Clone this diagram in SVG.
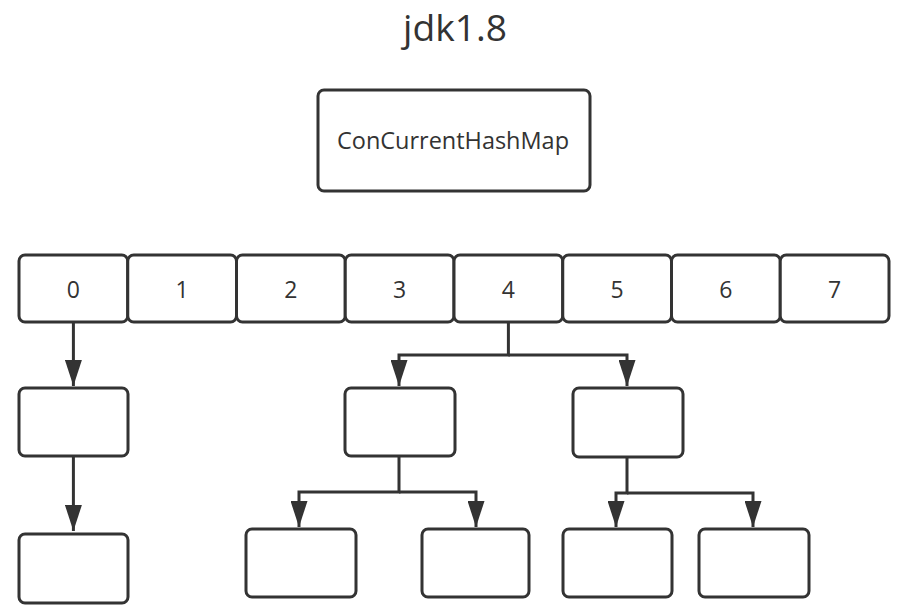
<svg xmlns="http://www.w3.org/2000/svg" width="901" height="613" viewBox="0 0 901 613">
<defs>
<marker id="arr" viewBox="0 0 17 26" refX="17" refY="8.5" markerWidth="17" markerHeight="26" markerUnits="userSpaceOnUse" orient="auto">
<path d="M0,0 L26,8.5 L0,17 Z" fill="#333" transform="scale(1,1)"/>
</marker>
<marker id="ah" viewBox="0 0 26 17" refX="26" refY="8.5" markerWidth="26" markerHeight="17" markerUnits="userSpaceOnUse" orient="auto">
<path d="M0,0 L26,8.5 L0,17 Z" fill="#333"/>
</marker>
</defs>
<style>
.box{fill:#fff;stroke:#333;stroke-width:3}
.t{font-family:"Open Sans","Noto Sans",sans-serif;fill:#333;text-anchor:middle}
.d{font-size:23px}
.c{fill:none;stroke:#333;stroke-width:3}
</style>
<rect width="901" height="613" fill="#fff"/>
<text class="t" x="455" y="41" font-size="37" textLength="104" lengthAdjust="spacingAndGlyphs">jdk1.8</text>
<g id="chm">
<rect class="box" x="318" y="90" width="272" height="101" rx="6"/>
<text class="t" x="453" y="149" font-size="23" textLength="232" lengthAdjust="spacingAndGlyphs">ConCurrentHashMap</text>
</g>
<g id="cell0"><rect class="box" x="19" y="255" width="108.75" height="67" rx="6"/><text class="t d" x="73.4" y="298">0</text></g>
<g id="cell1"><rect class="box" x="127.75" y="255" width="108.75" height="67" rx="6"/><text class="t d" x="182.1" y="298">1</text></g>
<g id="cell2"><rect class="box" x="236.5" y="255" width="108.75" height="67" rx="6"/><text class="t d" x="290.9" y="298">2</text></g>
<g id="cell3"><rect class="box" x="345.25" y="255" width="108.75" height="67" rx="6"/><text class="t d" x="399.6" y="298">3</text></g>
<g id="cell4"><rect class="box" x="454" y="255" width="108.75" height="67" rx="6"/><text class="t d" x="508.4" y="298">4</text></g>
<g id="cell5"><rect class="box" x="562.75" y="255" width="108.75" height="67" rx="6"/><text class="t d" x="617.1" y="298">5</text></g>
<g id="cell6"><rect class="box" x="671.5" y="255" width="108.75" height="67" rx="6"/><text class="t d" x="725.9" y="298">6</text></g>
<g id="cell7"><rect class="box" x="780.25" y="255" width="108.75" height="67" rx="6"/><text class="t d" x="834.6" y="298">7</text></g>
<g id="n0a"><rect class="box" x="19" y="388" width="109" height="68" rx="6"/></g>
<g id="n0b"><rect class="box" x="19" y="534" width="109" height="69" rx="6"/></g>
<g id="n4a"><rect class="box" x="345" y="388" width="110" height="68" rx="6"/></g>
<g id="n4b"><rect class="box" x="573" y="388" width="110" height="69" rx="6"/></g>
<g id="n4a1"><rect class="box" x="246" y="529" width="110" height="68" rx="6"/></g>
<g id="n4a2"><rect class="box" x="422" y="529" width="107" height="68" rx="6"/></g>
<g id="n4b1"><rect class="box" x="563" y="529" width="109" height="68" rx="6"/></g>
<g id="n4b2"><rect class="box" x="699" y="529" width="110" height="68" rx="6"/></g>
<g id="connectors">
<path class="c" d="M73.4,322 V386" marker-end="url(#ah)"/>
<path class="c" d="M73.4,456 V531" marker-end="url(#ah)"/>
<path class="c" d="M508.4,322 V355 H399 V386" marker-end="url(#ah)"/>
<path class="c" d="M508.4,355 H627 V386" marker-end="url(#ah)"/>
<path class="c" d="M399,456 V492 H299 V527" marker-end="url(#ah)"/>
<path class="c" d="M399,492 H476 V527" marker-end="url(#ah)"/>
<path class="c" d="M627,457 V493 H616 V527" marker-end="url(#ah)"/>
<path class="c" d="M627,493 H753 V527" marker-end="url(#ah)"/>
</g>
</svg>
